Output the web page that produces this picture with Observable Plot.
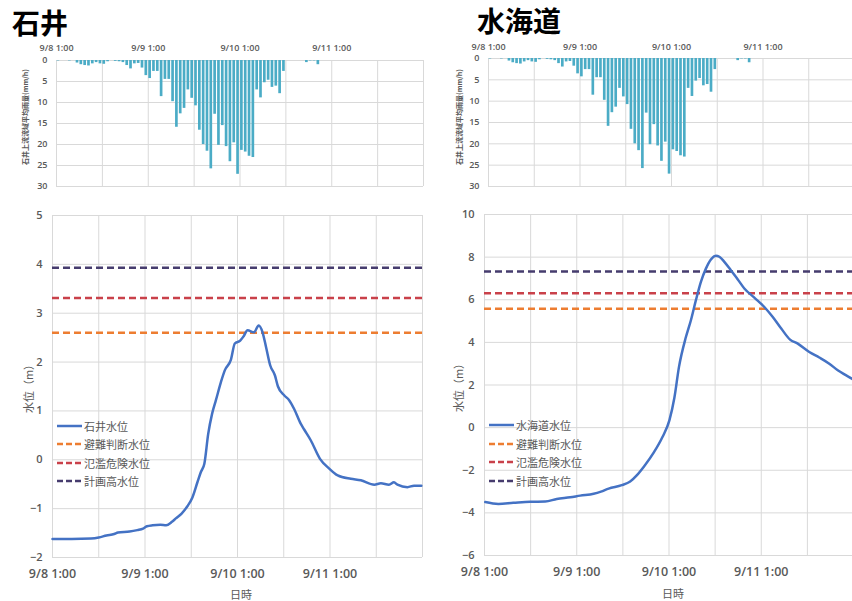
<!DOCTYPE html>
<html>
<head>
<meta charset="utf-8">
<script src="https://cdn.jsdelivr.net/npm/d3@7"></script>
<script src="https://cdn.jsdelivr.net/npm/@observablehq/plot@0.6"></script>
<style>
  html, body { margin: 0; padding: 0; background: #fff; }
  body { width: 852px; height: 601px; overflow: hidden; position: relative;
         font-family: "Noto Sans CJK JP", "Open Sans", sans-serif; }
  .abs { position: absolute; white-space: nowrap; }
  .title { font-size: 28px; font-weight: 700; color: #000; line-height: 1; }
  .lbl { color: #595959; line-height: 1; }
  .leg { position: absolute; display: flex; align-items: center; font-size: 11px; color: #595959; white-space: nowrap; }
  .leg svg { display: block; }
</style>
</head>
<body>
<div id="root"></div>
<script>
// ---------------- data ----------------
// hourly basin-average rainfall (mm/h), index = hours since 9/8 1:00
const rain = [
  0.1, 0, 0, 0.1, 0, 0.6, 1.0, 1.2, 1.3, 0.8, 0.5, 0.8, 0.9, 0.3, 0, 0.2,
  0.3, 0.5, 1.2, 2.0, 0.8, 0.7, 1.8, 3.6, 4.3, 2.6, 2.6, 8.6, 4.5, 4.5, 9.8, 15.9,
  12.7, 11.4, 7.0, 9.0, 10.8, 16.6, 20.0, 21.6, 25.8, 12.8, 20.2, 15.5, 20.5, 24.1, 19.6, 27.1,
  21.4, 21.8, 22.8, 23.1, 7.0, 8.9, 5.3, 4.7, 6.4, 6.1, 7.9, 2.6, 0, 0, 0, 0,
  0, 0.5, 0.1, 0.1, 1.0, 0, 0, 0, 0, 0, 0, 0, 0, 0, 0, 0,
  0, 0, 0, 0, 0, 0, 0, 0, 0, 0, 0, 0, 0, 0, 0, 0
];

// 石井 water level (hours since 9/8 1:00, m)
const ishiiT = [0, 5, 10, 12, 14, 16, 17, 20, 22, 23.5, 24.5, 26, 28, 29.5, 31, 32, 33.5, 35, 36.3, 37.6,
  38.5, 39.4, 40.4, 41.4, 42.4, 43.7, 44.7, 46.3, 47.3, 48.7, 49.6, 50.6, 52.3, 53.5, 54.5, 55.4,
  56.5, 57.7, 58.5, 60.1, 61.4, 62.7, 64.4, 65.3, 67, 69.4, 71.8, 74, 77.4, 80, 83.5, 85.2, 87.3,
  88.6, 89.5, 92.1, 93.8, 95.7];
const ishiiV = [-1.62, -1.62, -1.61, -1.59, -1.55, -1.52, -1.49, -1.47, -1.44, -1.41, -1.36, -1.34, -1.33, -1.34, -1.27, -1.20, -1.10, -0.95, -0.77, -0.46,
  -0.25, -0.08, 0.53, 0.94, 1.22, 1.59, 1.83, 2.05, 2.38, 2.44, 2.53, 2.65, 2.61, 2.75, 2.61, 2.31,
  1.93, 1.73, 1.50, 1.32, 1.22, 1.04, 0.74, 0.62, 0.40, 0.02, -0.18, -0.32, -0.39, -0.42, -0.51, -0.48, -0.51,
  -0.46, -0.51, -0.56, -0.53, -0.53];

// 水海道 water level
const mitsuT = [0.2, 3.6, 7.5, 11.9, 15.8, 18.8, 22.3, 24.9, 28.4, 30.3, 32.3, 35.7, 37.9, 39.6, 41.5, 44.1,
  46.3, 48.1, 49.4, 50.6, 52.4, 53.7, 55.0, 56.3, 57.6, 58.9, 60.2, 61.1, 62.4, 64.1, 65.9, 67.6,
  70.2, 72.8, 75.0, 77.2, 79.5, 81.5, 84.5, 87.1, 89.7, 91.9, 94.0, 96];
const mitsuV = [-3.49, -3.58, -3.53, -3.48, -3.47, -3.35, -3.27, -3.19, -3.10, -3.00, -2.86, -2.70, -2.53, -2.24, -1.82, -1.15,
  -0.44, 0.34, 1.40, 2.85, 4.25, 5.04, 5.98, 6.84, 7.46, 7.89, 8.07, 8.02, 7.78, 7.38, 6.95, 6.53,
  6.10, 5.66, 5.19, 4.65, 4.13, 3.94, 3.55, 3.29, 3.00, 2.69, 2.46, 2.25];

// reference levels: 避難判断水位, 氾濫危険水位, 計画高水位
const levelNames = ["避難判断水位", "氾濫危険水位", "計画高水位"];
const ishiiLevels = [2.60, 3.31, 3.93];
const mitsuLevels = [5.58, 6.30, 7.33];

const tickHours = [0, 24, 48, 72];
const tickLabels = ["9/8 1:00", "9/9 1:00", "9/10 1:00", "9/11 1:00"];
const gridHours = [0, 12, 24, 36, 48, 60, 72, 84, 96];
const rainTicks = [0, 5, 10, 15, 20, 25, 30];
const ishiiTicks = [-2, -1, 0, 1, 2, 3, 4, 5];
const mitsuTicks = [-6, -4, -2, 0, 2, 4, 6, 8, 10];

// ---------------- styling ----------------
const FONT = '"Open Sans", "Noto Sans CJK JP", sans-serif';
const GRID = "#d9d9d9";
const BAR = "#4BACC6";
const LINE = "#4472C4";
const levelColors = ["#ED7D31", "#C9414A", "#463C6E"];
const DASH = "7,4";

const root = document.getElementById("root");
function place(el, left, top) {
  el.style.position = "absolute";
  el.style.left = left + "px";
  el.style.top = top + "px";
  root.appendChild(el);
}
function text(str, cls, left, top, extra = "") {
  const d = document.createElement("div");
  d.className = "abs " + cls;
  d.textContent = str;
  d.style.cssText += `left:${left}px;top:${top}px;${extra}`;
  root.appendChild(d);
  return d;
}
const fmtTick = d => tickLabels[tickHours.indexOf(d)];

const rainData = rain.map((v, i) => ({t0: i, t1: i + 1, v}));

function hyeto(ml, mr, mt, mb, w, h, pad) {
  return Plot.plot({
    width: w, height: h,
    marginLeft: ml, marginRight: mr, marginTop: mt, marginBottom: mb,
    x: {domain: [0, 96]},
    y: {domain: [0, 30], reverse: true},
    style: {fontFamily: FONT, fontSize: "9px", color: "#595959", background: "transparent", overflow: "visible"},
    marks: [
      Plot.gridX(gridHours, {stroke: GRID, strokeOpacity: 1}),
      Plot.gridY(rainTicks, {stroke: GRID, strokeOpacity: 1}),
      Plot.rectY(rainData, {x1: "t0", x2: "t1", y: "v", fill: BAR, insetLeft: 0.55, insetRight: 0.6}),
      Plot.axisX(tickHours, {anchor: "top", tickSize: 0, tickPadding: pad, tickFormat: fmtTick, fontWeight: 600, label: null}),
      Plot.axisY(rainTicks, {anchor: "left", tickSize: 0, tickPadding: 9, label: null, fontWeight: 600})
    ]
  });
}

function levelChart(T, V, levels, yDomain, yTicks, ml, mr, mt, mb, w, h) {
  const pts = T.map((t, i) => ({t, v: V[i]}));
  return Plot.plot({
    width: w, height: h,
    marginLeft: ml, marginRight: mr, marginTop: mt, marginBottom: mb,
    x: {domain: [0, 96]},
    y: {domain: yDomain},
    style: {fontFamily: FONT, fontSize: "11px", color: "#595959", background: "transparent", overflow: "visible"},
    marks: [
      Plot.gridX(gridHours, {stroke: GRID, strokeOpacity: 1}),
      Plot.gridY(yTicks, {stroke: GRID, strokeOpacity: 1}),
      ...levels.map((lv, i) => Plot.ruleY([lv], {stroke: levelColors[i], strokeWidth: 2.5, strokeDasharray: DASH})),
      Plot.line(pts, {x: "t", y: "v", stroke: LINE, strokeWidth: 2.5, curve: "monotone-x"}),
      Plot.axisX(tickHours, {anchor: "bottom", tickSize: 0, tickPadding: 12, tickFormat: fmtTick, fontSize: 12.5, fontWeight: 600, label: null}),
      Plot.axisY(yTicks, {anchor: "left", tickSize: 0, tickPadding: 10, label: null, fontWeight: 600})
    ]
  });
}

// titles
text("石井", "title", 12, 8);
text("水海道", "title", 477, 6);

// hyetographs
place(hyeto(56, 3, 30, 9, 426, 165, 10), 0, 30);
place(hyeto(62, 0, 28, 9, 428, 165, 9), 426, 30);

// rainfall axis titles (rotated)
const rainTitle = "石井上流流域平均雨量(mm/h)";
text(rainTitle, "lbl", 0, 0, "font-size:7px;transform:translate(-50%,-50%) rotate(-90deg);left:25px;top:117px;font-weight:600;");
text(rainTitle, "lbl", 0, 0, "font-size:7px;transform:translate(-50%,-50%) rotate(-90deg);left:459px;top:117px;font-weight:600;");

// level charts
place(levelChart(ishiiT, ishiiV, ishiiLevels, [-2, 5], ishiiTicks, 52, 4, 15, 44, 426, 401), 0, 200);
place(levelChart(mitsuT, mitsuV, mitsuLevels, [-6, 10], mitsuTicks, 58, 0, 14, 46, 427, 401), 426, 200);

// axis titles
text("水位（m）", "lbl", 0, 0, "font-size:11px;transform:translate(-50%,-50%) rotate(-90deg);left:28px;top:386px;");
text("水位（m）", "lbl", 0, 0, "font-size:11px;transform:translate(-50%,-50%) rotate(-90deg);left:458px;top:385px;");
text("日時", "lbl", 0, 0, "font-size:11px;transform:translate(-50%,-50%);left:241px;top:594px;");
text("日時", "lbl", 0, 0, "font-size:11px;transform:translate(-50%,-50%);left:673px;top:593px;");

// legends
function legend(x, yCenters, firstName) {
  const names = [firstName, ...levelNames];
  const colors = [LINE, ...levelColors];
  names.forEach((nm, i) => {
    const row = document.createElement("div");
    row.className = "leg";
    row.style.left = x + "px";
    row.style.top = (yCenters[i] - 8) + "px";
    row.style.height = "16px";
    const ns = "http://www.w3.org/2000/svg";
    const s = document.createElementNS(ns, "svg");
    s.setAttribute("width", 26); s.setAttribute("height", 16);
    const l = document.createElementNS(ns, "line");
    l.setAttribute("x1", 0); l.setAttribute("x2", 25); l.setAttribute("y1", 8); l.setAttribute("y2", 8);
    l.setAttribute("stroke", colors[i]); l.setAttribute("stroke-width", 2.5);
    if (i > 0) l.setAttribute("stroke-dasharray", "6,3");
    s.appendChild(l);
    row.appendChild(s);
    const t = document.createElement("span");
    t.textContent = nm;
    t.style.marginLeft = "1px";
    row.appendChild(t);
    root.appendChild(row);
  });
}
legend(57, [425.7, 444.3, 462.7, 481], "石井水位");
legend(489, [425, 444.3, 462.3, 481], "水海道水位");
</script>
</body>
</html>
